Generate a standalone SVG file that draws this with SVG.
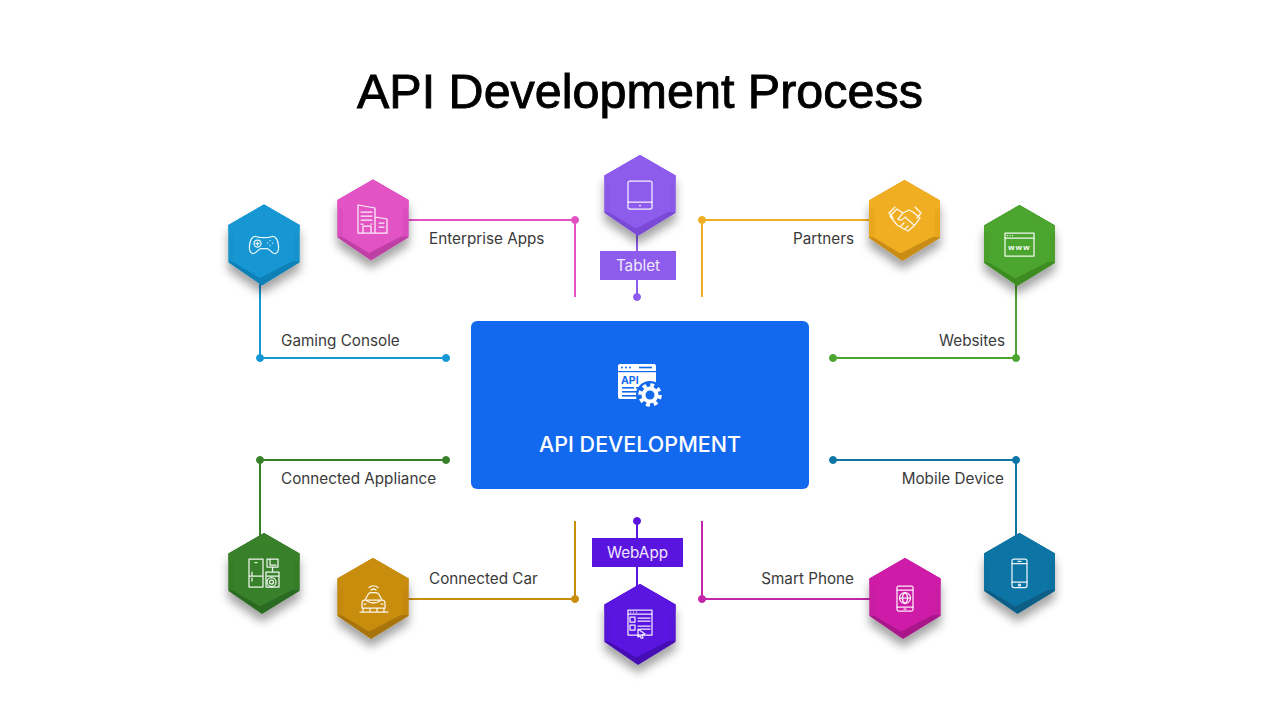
<svg xmlns="http://www.w3.org/2000/svg" width="1280" height="720" viewBox="0 0 1280 720">
<style>
.lb{font-family:Inter,"Liberation Sans",sans-serif;font-size:15.25px;fill:#3a3a3a}
.tag{font-family:Inter,"Liberation Sans",sans-serif;font-size:15.25px;fill:#f0e8ff;text-anchor:middle}
.e{text-anchor:end}
.c{fill:none;stroke-width:2}
.ic{fill:none;stroke:#fff;stroke-width:1.25;stroke-linejoin:round;stroke-linecap:round;opacity:.92}
.hx{filter:url(#sh)}
</style>
<defs>
<filter id="sh" x="-40%" y="-30%" width="180%" height="170%"><feDropShadow dx="0" dy="8" stdDeviation="5" flood-color="#000" flood-opacity=".36"/></filter>
<polygon id="back" points="0,0 35.5,20.5 35.5,58 -2,81 -35.5,58 -35.5,20.5"/>
<polygon id="mid" points="0,0 35.5,20.5 35.5,57 30,57 -30,58 -35.5,57 -35.5,20.5" opacity=".8"/>
<polygon id="front" points="0,0 35.5,20.5 35.5,27 30,30 30,56 -4,73.5 -30,58 -30,30 -35.5,27 -35.5,20.5"/>
</defs>
<rect width="1280" height="720" fill="#fff"/>
<text x="640" y="108" text-anchor="middle" font-family="'Liberation Sans',Arial,sans-serif" font-size="48.5" stroke="#000" stroke-width=".9" fill="#000">API Development Process</text>

<g id="connectors">
<g fill="#1497d3" stroke="#1497d3"><path class="c" d="M260 280V358H446"/><circle cx="260" cy="358" r="3.5"/><circle cx="446" cy="358" r="3.5"/></g>
<g fill="#e252c4" stroke="#e252c4"><path class="c" d="M405 220H575V297"/><circle cx="575" cy="220" r="3.5"/></g>
<g fill="#8e5cec" stroke="#8e5cec"><path class="c" d="M637 230V297"/><circle cx="637" cy="297" r="3.5"/></g>
<g fill="#f0ae22" stroke="#f0ae22"><path class="c" d="M872 220H702V297"/><circle cx="702" cy="220" r="3.5"/></g>
<g fill="#4ba52e" stroke="#4ba52e"><path class="c" d="M1016 280V358H833"/><circle cx="1016" cy="358" r="3.5"/><circle cx="833" cy="358" r="3.5"/></g>
<g fill="#37802a" stroke="#37802a"><path class="c" d="M260 536V460H446"/><circle cx="260" cy="460" r="3.5"/><circle cx="446" cy="460" r="3.5"/></g>
<g fill="#c98d0e" stroke="#c98d0e"><path class="c" d="M405 599H575V521"/><circle cx="575" cy="599" r="3.5"/></g>
<g fill="#5a14e0" stroke="#5a14e0"><path class="c" d="M637 587V521"/><circle cx="637" cy="521" r="3.5"/></g>
<g fill="#c426a8" stroke="#c426a8"><path class="c" d="M872 599H702V521"/><circle cx="702" cy="599" r="3.5"/></g>
<g fill="#0f75a5" stroke="#0f75a5"><path class="c" d="M1016 536V460H833"/><circle cx="1016" cy="460" r="3.5"/><circle cx="833" cy="460" r="3.5"/></g>
</g>

<g id="center">
<rect x="471" y="321" width="338" height="168" rx="6" fill="#1369ee"/>
<rect x="618" y="364" width="38" height="35" rx="2" fill="#fff"/>
<rect x="618" y="371" width="38" height="1.2" fill="#1369ee"/>
<g fill="#1369ee"><circle cx="622" cy="367.5" r="1"/><circle cx="626" cy="367.5" r="1"/><circle cx="630" cy="367.5" r="1"/><rect x="639" y="366.7" width="13" height="1.6"/></g>
<text x="621" y="384" font-family="Inter,'Liberation Sans',sans-serif" font-size="10.5" font-weight="700" fill="#1369ee">API</text>
<g fill="#1369ee"><rect x="622" y="387" width="12" height="1.6"/><rect x="636" y="387" width="7" height="1.6"/><rect x="622" y="391" width="18" height="1.6"/><rect x="622" y="395" width="14" height="1.6"/></g>
<circle cx="650" cy="395" r="14" fill="#1369ee"/>
<circle cx="650" cy="395" r="8.500" fill="#fff"/>
<circle cx="650" cy="395" r="10" fill="none" stroke="#fff" stroke-width="3.6" stroke-dasharray="3.9 3.95"/>
<circle cx="650" cy="395" r="4.500" fill="#1369ee"/>
<text x="640" y="452" text-anchor="middle" font-family="Inter,'Liberation Sans',sans-serif" font-size="21.5" font-weight="500" fill="#fff">API DEVELOPMENT</text>
</g>

<g id="gaming"><g class="hx" transform="translate(264,204.5)"><use href="#back" fill="#0f81b6"/><use href="#mid" fill="#1497d3"/><use href="#front" fill="#1497d3"/></g>
<path class="ic" d="M256 236.500C259 238 269 238 272 236.500C276 236 278 240 278.500 246C279 251 277 254 274.500 253.500C271 253 270 249 267 248.500H261C258 249 257 253 253.500 253.500C251 254 249 251 249.500 246C250 240 252 236 256 236.500Z"/><circle class="ic" cx="257.500" cy="243.500" r="3.500"/><path class="ic" d="M257.500 242v3M256 243.500h3M270 240.500h.1M270 245.500h.1M267.500 243h.1M272.500 243h.1"/>
<text class="lb" x="281" y="346">Gaming Console</text></g>

<g id="enterprise"><g class="hx" transform="translate(373,179.500)"><use href="#back" fill="#bf3fa5"/><use href="#mid" fill="#e252c4"/><use href="#front" fill="#e252c4"/></g>
<path class="ic" d="M358 233V205L375 208V233ZM375 217L387 219V233H375M363 233V226H371V233M361 212h11M361 216h11M361 220h11M361 224h2M371 224h1M379 223h5M379 227h5"/>
<text class="lb" x="429" y="244">Enterprise Apps</text></g>

<g id="tablet"><g class="hx" transform="translate(640,155)"><use href="#back" fill="#7a49d6"/><use href="#mid" fill="#8e5cec"/><use href="#front" fill="#8e5cec"/></g>
<rect class="ic" x="628" y="181" width="24" height="28" rx="2"/><path class="ic" d="M628 202H652M639.500 205.500h1"/>
<rect x="600" y="251" width="76" height="29" fill="#8e5cec"/><text class="tag" x="638" y="271">Tablet</text></g>

<g id="partners"><g class="hx" transform="translate(904.500,180)"><use href="#back" fill="#c98c14"/><use href="#mid" fill="#f0ae22"/><use href="#front" fill="#f0ae22"/></g>
<path class="ic" d="M890 216L897 209L903 213L909 210L913 212L920 218L914 226L908 231L904 229L897 225ZM903 213L898 219C900 221 903 220 905 217L914 225M895 207L889 213L893 218M915 207L921 213L917 218M901 226l3-3M905 229l3-3"/>
<text class="lb e" x="854" y="244">Partners</text></g>

<g id="websites"><g class="hx" transform="translate(1019.500,205)"><use href="#back" fill="#3c8c24"/><use href="#mid" fill="#4ba52e"/><use href="#front" fill="#4ba52e"/></g>
<rect class="ic" x="1005" y="233" width="29" height="23"/><path class="ic" d="M1005 238H1034M1007.500 235.500h.1M1010 235.500h.1M1012.500 235.500h.1"/>
<text x="1019.500" y="250" text-anchor="middle" font-family="'Liberation Sans',sans-serif" font-size="8" font-weight="700" letter-spacing="1.200" fill="#fff">www</text>
<text class="lb e" x="1005" y="346">Websites</text></g>

<g id="appliance"><g class="hx" transform="translate(264,533)"><use href="#back" fill="#2b6a20"/><use href="#mid" fill="#37802a"/><use href="#front" fill="#37802a"/></g>
<path class="ic" d="M249 559H263V587H249ZM249 576H263M255 562.500h2M252 572v3M252 578v3M266 572H279V587H266ZM266 576H279M267 559H278V567H267ZM272.500 567V572M270 559V565H276"/><circle class="ic" cx="271.500" cy="582" r="4.500"/><circle class="ic" cx="271.500" cy="582" r="2"/>
<text class="lb" x="281" y="484">Connected Appliance</text></g>

<g id="car"><g class="hx" transform="translate(373,558)"><use href="#back" fill="#a87408"/><use href="#mid" fill="#c98d0e"/><use href="#front" fill="#c98d0e"/></g>
<path class="ic" d="M365 600L368 594.500Q369 592.500 371 592.500H376Q378 592.500 379 594.500L382 600M362 608V603Q362 600 365 600H382Q385 600 385 603V608ZM360 612H388M363 608V612M384 608V612M367 601Q373.500 605 380 601M364 604h2M381 604h2M370 608v4M377 608v4M371 590a4 4 0 0 1 5 0M369 587.500a7 7 0 0 1 9 0"/>
<text class="lb" x="429" y="584">Connected Car</text></g>

<g id="webapp"><g class="hx" transform="translate(640,584)"><use href="#back" fill="#4610b4"/><use href="#mid" fill="#5a14e0"/><use href="#front" fill="#5a14e0"/></g>
<rect class="ic" x="628" y="610" width="24" height="25"/><path class="ic" d="M628 614H652M630.500 612h.1M633.500 612h.1M636.500 612h.1M630 617H635V622H630ZM630 625H635V630H630ZM638 618H650M638 621H650M638 626H650M640 629H650M638 629L645 634L642 635L643 638L641 638L640 636L638 637Z"/>
<rect x="592" y="538" width="91" height="29" fill="#5a14e0"/><text class="tag" x="637.500" y="558">WebApp</text></g>

<g id="phone"><g class="hx" transform="translate(905,558)"><use href="#back" fill="#a8188a"/><use href="#mid" fill="#cf1fa8"/><use href="#front" fill="#cf1fa8"/></g>
<rect class="ic" x="897" y="586" width="16" height="25" rx="1.500"/><path class="ic" d="M897 590H913M897 607H913M904 609h2M899.500 598H910.500M905 592.500C901.500 595 901.500 601 905 603.500C908.500 601 908.500 595 905 592.500Z"/><circle class="ic" cx="905" cy="598" r="5.500"/>
<text class="lb e" x="854" y="584">Smart Phone</text></g>

<g id="mobile"><g class="hx" transform="translate(1019.500,533)"><use href="#back" fill="#0b5f87"/><use href="#mid" fill="#0f75a5"/><use href="#front" fill="#0f75a5"/></g>
<rect class="ic" x="1012" y="559" width="15" height="28.500" rx="2"/><path class="ic" d="M1012 563.500H1027M1012 582H1027M1018 561.300h3"/><circle class="ic" cx="1019.500" cy="585" r="1"/>
<text class="lb e" x="1004" y="484">Mobile Device</text></g>
</svg>
